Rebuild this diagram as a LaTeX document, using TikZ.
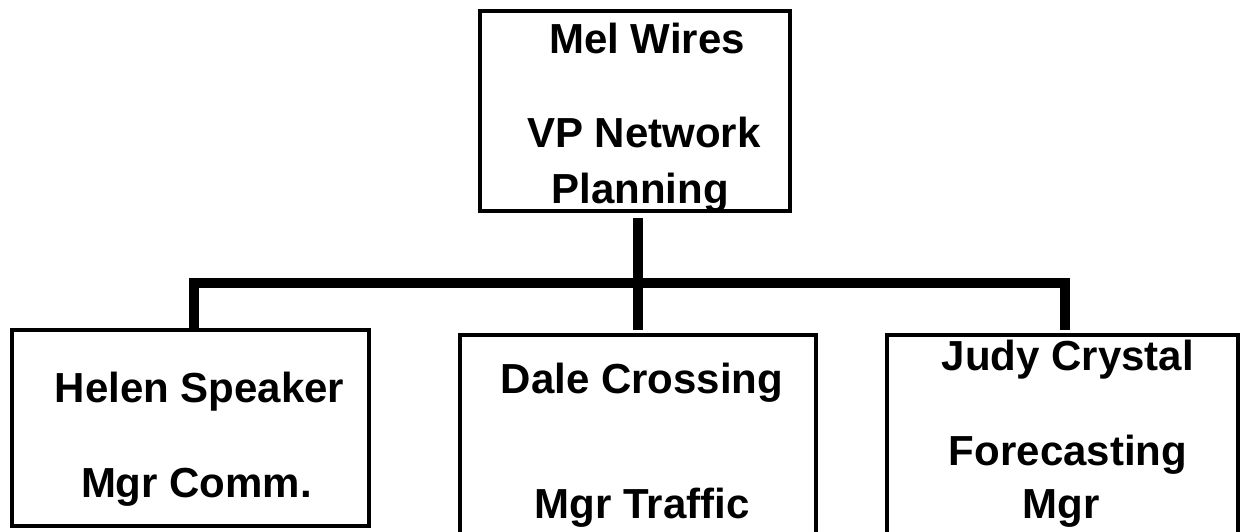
\documentclass[tikz,border=0pt]{standalone}
\usepackage{fontspec}
\setmainfont{Liberation Sans}
\begin{document}
\begin{tikzpicture}[x=1pt, y=-1pt,
  box/.style={draw=black, line width=4pt, fill=white, rectangle, inner sep=0pt, outer sep=0pt},
  conn/.style={draw=black, line width=10pt, line cap=butt, line join=miter},
  lbl/.style={font=\fontsize{42}{50}\selectfont\bfseries, anchor=base, inner sep=0pt}]
  \useasboundingbox (0,0) rectangle (1241,531);

  % org chart boxes
  \node[box, minimum width=310pt, minimum height=200pt] (vp)    at (635,111)    {};
  \node[box, minimum width=357pt, minimum height=196pt] (helen) at (190.5,428)  {};
  \node[box, minimum width=356pt, minimum height=225pt] (dale)  at (638,447.5)  {};
  \node[box, minimum width=351pt, minimum height=225pt] (judy)  at (1062.5,447.5) {};

  % reporting lines
  \coordinate (bus) at (638,283);
  \coordinate (lbr) at (194,283);
  \coordinate (rbr) at (1065,283);
  \draw[conn] ([yshift=-7pt]vp.south -| bus) -- ([yshift=5pt]dale.north -| bus);
  \draw[conn] ([yshift=2pt]helen.north -| lbr) -- (lbr) -- (rbr) -- ([yshift=5pt]judy.north -| rbr);

  % names and titles
  \node[lbl] (t1) at (647,53)  {Mel Wires};
  \node[lbl] (t2) at (644,147) {VP Network};
  \node[lbl] (t3) at (640,203) {Planning};

  \node[lbl] (h1) at (199.5,402) {Helen Speaker};
  \node[lbl] (h2) at (196.5,497) {Mgr Comm.};

  \node[lbl] (d1) at (642,393) {Dale Crossing};
  \node[lbl] (d2) at (642,518) {Mgr Traffic};

  \node[lbl] (j1) at (1068,370) {Judy Crystal};
  \node[lbl] (j2) at (1068,465) {Forecasting};
  \node[lbl] (j3) at (1061,518) {Mgr};
\end{tikzpicture}
\end{document}
